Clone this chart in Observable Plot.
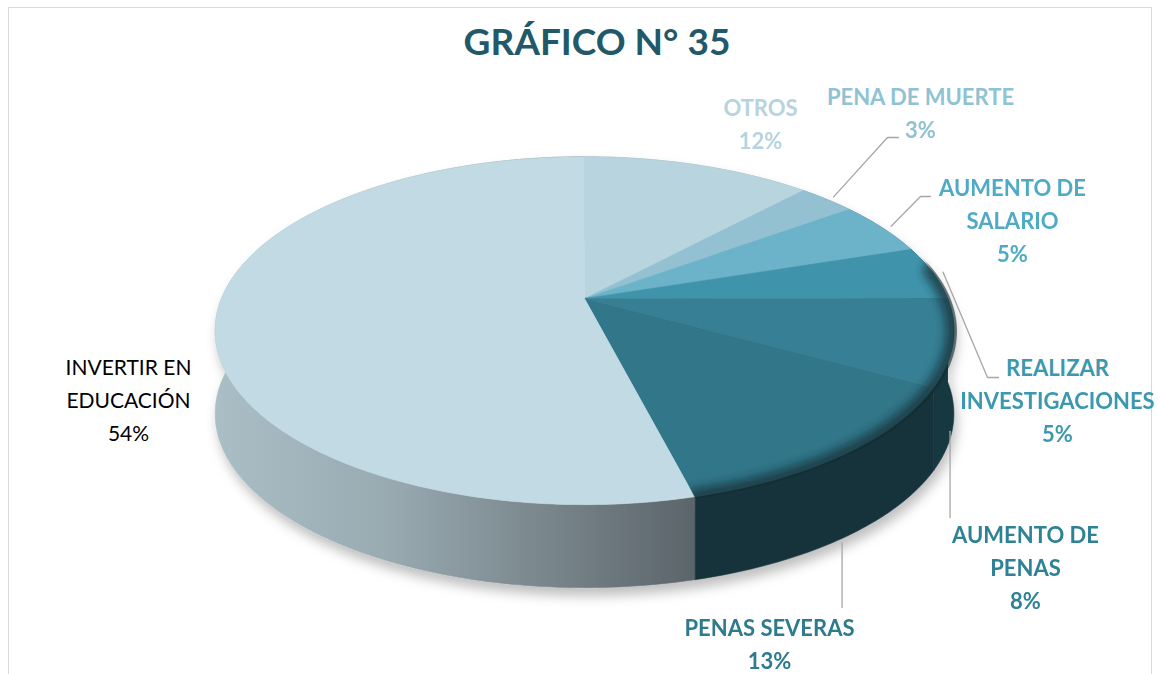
<!DOCTYPE html>
<html>
<head>
<meta charset="utf-8">
<script src="https://cdn.jsdelivr.net/npm/d3@7"></script>
<script src="https://cdn.jsdelivr.net/npm/@observablehq/plot@0.6"></script>
<style>
  html, body { margin: 0; padding: 0; background: #fff; }
  #wrap { position: relative; width: 1158px; height: 674px; overflow: hidden; background: #fff; }
  #frame { position: absolute; left: 8px; top: 7px; width: 1144px; height: 720px; border: 1.5px solid #d9d9d9; box-sizing: border-box; }
  #title { position: absolute; left: 18px; top: 13px; width: 1158px; height: 56px; line-height: 56px; text-align: center;
           font-family: Lato, "Open Sans", sans-serif; font-weight: 700; font-size: 37px; color: #215968; }
  #chart { position: absolute; left: 0; top: 70px; }
</style>
</head>
<body>
<div id="wrap">
  <div id="frame"></div>
  <div id="title">GRÁFICO N° 35</div>
  <div id="chart"></div>
</div>
<script>
// ---------- data ----------
const categories = ["OTROS", "PENA DE MUERTE", "AUMENTO DE SALARIO", "REALIZAR INVESTIGACIONES", "AUMENTO DE PENAS", "PENAS SEVERAS", "INVERTIR EN EDUCACIÓN"];
const percents = [12, 3, 5, 5, 8, 13, 54];
const labelLines = [["OTROS"], ["PENA DE MUERTE"], ["AUMENTO DE", "SALARIO"], ["REALIZAR", "INVESTIGACIONES"], ["AUMENTO DE", "PENAS"], ["PENAS SEVERAS"], ["INVERTIR EN", "EDUCACIÓN"]];

// ---------- styles ----------
const sliceColors = ["#b8d4de", "#93c1d1", "#6cb3c9", "#3f94ab", "#367f94", "#327689", "#c1dae3"];
const wallColors = ["#8fa8b1", "#6f98a6", "#4b8799", "#1f4d5a", "#19383f", "#16323b", "url(#gEdu)"];
const labelColors = ["#b7d3de", "#8fc2d3", "#4eaac5", "#3c98ae", "#2f8195", "#2f7b8e", "#000000"];
const labelBold = [true, true, true, true, true, true, false];

// ---------- layout ----------
const PIE = {cx: 584, cy: 298, A: 363, B: 168, p: 0.185, H: 83};
const labelPos = [[760, 108], [920, 97], [1012, 188], [1057, 368], [1025, 535], [769, 628], [128, 368]];
const lineGap = 33;
const leaderLayout = [
  null,
  {r: 1.03, elbow: [887, 137], end: [898, 137]},
  {r: 1.03, elbow: [920, 196], end: [930, 196]},
  {r: 1.03, elbow: [987, 377], end: [998, 377]},
  {wall: true, endY: 517},
  {wall: true, endY: 607},
  null
];

// ---------- geometry from data ----------
function proj(deg, r = 1, dz = 0) {
  const t = deg * Math.PI / 180, X = r * Math.sin(t), Z = r * Math.cos(t), d = 1 + PIE.p * Z;
  return {x: PIE.cx + PIE.A * X / d, y: PIE.cy - PIE.B * Z / d + dz};
}
function arcPts(a0, a1, dz, r = 1) {
  const n = Math.max(2, Math.ceil(a1 - a0));
  return d3.range(n + 1).map(k => proj(a0 + (a1 - a0) * k / n, r, dz));
}
const arcs = d3.pie().sort(null).value(d => d)(percents)
  .map((a, i) => ({i, a0: a.startAngle * 180 / Math.PI, a1: a.endAngle * 180 / Math.PI}));

const topPolys = arcs.map(({a0, a1}) => [{x: PIE.cx, y: PIE.cy}, ...arcPts(a0, a1, 0)]);
const wallPolys = arcs.map(({a0, a1}) => [...arcPts(a0, a1, 0), ...arcPts(a0, a1, PIE.H).reverse()]);
// soft bevel along the front rim of the dark slices
const bevelFrom = arcs[3].a0 + 8, bevelTo = arcs[5].a1;
const bevelRows = arcPts(bevelFrom, bevelTo, 0, 1.0);
const clipPoly = [{x: PIE.cx, y: PIE.cy}, ...arcPts(arcs[3].a0, bevelTo, 0, 1.008)];

const leaderRows = [];
arcs.forEach(({i, a0, a1}) => {
  const L = leaderLayout[i];
  if (!L) return;
  const mid = (a0 + a1) / 2;
  let pts;
  if (L.wall) {
    const b = proj(mid, 1, PIE.H);
    pts = [{x: b.x - 3, y: b.y + 6}, {x: b.x - 3, y: L.endY}];
  } else {
    const s = proj(mid, L.r, 0);
    pts = [s, {x: L.elbow[0], y: L.elbow[1]}, {x: L.end[0], y: L.end[1]}];
  }
  pts.forEach(p => leaderRows.push({...p, key: categories[i]}));
});

const textRows = categories.flatMap((c, i) => {
  const lines = [...labelLines[i], percents[i] + "%"];
  return lines.map((t, j) => ({text: t, x: labelPos[i][0], y: labelPos[i][1] + j * lineGap, color: labelColors[i], bold: labelBold[i]}));
});

const font = 'Lato, "Open Sans", sans-serif';
const plot = Plot.plot({
  width: 1158, height: 604,
  margin: 0,
  style: {background: "transparent", overflow: "visible"},
  x: {domain: [0, 1158], range: [0, 1158], axis: null},
  y: {domain: [70, 674], range: [0, 604], axis: null},
  marks: [
    ...wallPolys.map((poly, i) => Plot.line(poly, {x: "x", y: "y", fill: wallColors[i], stroke: wallColors[i], strokeWidth: 0.6, curve: "linear-closed"})),
    ...topPolys.map((poly, i) => Plot.line(poly, {x: "x", y: "y", fill: sliceColors[i], stroke: sliceColors[i], strokeWidth: 0.6, curve: "linear-closed"})),
    Plot.line(bevelRows, {x: "x", y: "y", stroke: "#10262d", strokeWidth: 16, strokeOpacity: 0.7}),
    Plot.line(leaderRows, {x: "x", y: "y", z: "key", stroke: "#a6a6a6", strokeWidth: 1.3}),
    Plot.text(textRows.filter(d => d.bold), {x: "x", y: "y", text: "text", fill: d => d.color, fontSize: 22, fontWeight: 700, fontFamily: font, textAnchor: "middle"}),
    Plot.text(textRows.filter(d => !d.bold), {x: "x", y: "y", text: "text", fill: "#000", fontSize: 21, fontWeight: 400, fontFamily: font, textAnchor: "middle"})
  ]
});

// ---------- gradients, shadow, bevel blur ----------
const svg = d3.select(plot);
const gs = Array.from(plot.querySelectorAll(":scope > g"));
const sx = plot.scale("x"), sy = plot.scale("y");
const defs = svg.insert("defs", "g");
const gEdu = defs.append("linearGradient").attr("id", "gEdu").attr("x1", 0).attr("x2", 1).attr("y1", 0).attr("y2", 0);
[[0, "#aabec6"], [0.35, "#9aabb2"], [0.8, "#6e7a80"], [1, "#5b646a"]].forEach(([o, c]) => gEdu.append("stop").attr("offset", o).attr("stop-color", c));
const sh = defs.append("filter").attr("id", "shadow").attr("x", "-10%").attr("y", "-10%").attr("width", "130%").attr("height", "140%");
sh.append("feDropShadow").attr("dx", 3).attr("dy", 8).attr("stdDeviation", 6).attr("flood-color", "#000").attr("flood-opacity", 0.25);
const bl = defs.append("filter").attr("id", "blur").attr("x", "-20%").attr("y", "-20%").attr("width", "140%").attr("height", "140%");
bl.append("feGaussianBlur").attr("stdDeviation", 5);
const clipLine = d3.line().x(d => sx.apply(d.x) + 0.5).y(d => sy.apply(d.y) + 0.5);
defs.append("clipPath").attr("id", "topclip").append("path").attr("d", clipLine(clipPoly) + "Z");

// group the walls so they share one drop shadow
const wallGroup = svg.insert("g", () => gs[0]).attr("filter", "url(#shadow)");
gs.slice(0, 7).forEach(g => wallGroup.node().appendChild(g));
// bevel: blurred and clipped to the top faces of the darker slices
const bevel = gs[14];
const bevelWrap = svg.insert("g", () => bevel).attr("clip-path", "url(#topclip)");
bevelWrap.node().appendChild(bevel);
d3.select(bevel).attr("filter", "url(#blur)");

document.getElementById("chart").appendChild(plot);
</script>
</body>
</html>
